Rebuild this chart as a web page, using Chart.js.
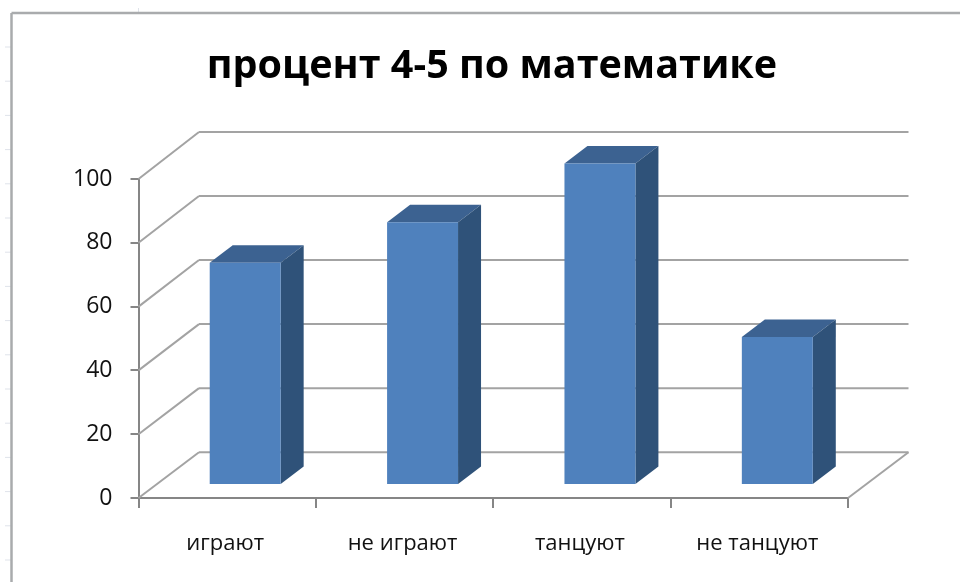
<!DOCTYPE html>
<html lang="ru">
<head>
<meta charset="utf-8">
<title>процент 4-5 по математике</title>
<script src="https://cdn.jsdelivr.net/npm/chart.js@4"></script>
<style>
  html, body { margin: 0; padding: 0; background: #fff; overflow: hidden; }
  canvas { display: block; filter: blur(0.5px); }
</style>
</head>
<body>
<canvas id="chartContainer" width="960" height="582"></canvas>
<script>
// Значення
const categories = ["играют", "не играют", "танцуют", "не танцуют"];
const percentValues = [69.7, 82.4, 100.8, 46.4];
const chartTitle = "процент 4-5 по математике";

const gridColor = "#a3a3a3";
const axisColor = "#868686";
const wallDepth = { x: 60.5, y: -45.8, stretch: 0.004 };
const barShift = { x: 18, y: -13 };
const barDepth = { x: 23, y: -17.5 };

function line(ctx, x1, y1, x2, y2) {
  ctx.beginPath();
  ctx.moveTo(x1, y1);
  ctx.lineTo(x2, y2);
  ctx.stroke();
}

function poly(ctx, pts, color) {
  ctx.fillStyle = color;
  ctx.beginPath();
  pts.forEach((p, i) => (i ? ctx.lineTo(p[0], p[1]) : ctx.moveTo(p[0], p[1])));
  ctx.closePath();
  ctx.fill();
}

// Псевдо-3D: задня стінка, підлога та бокові грані стовпців
const fake3d = {
  id: "fake3d",
  beforeDraw(chart) {
    const ctx = chart.ctx;
    ctx.save();
    // рамка аркуша і лінійка зліва
    ctx.strokeStyle = "#dfe3ea";
    ctx.lineWidth = 1;
    for (let y = 47; y < 582; y += 34.2) line(ctx, 5, y, 11, y);
    line(ctx, 138.5, 8, 138.5, 12);
    ctx.strokeStyle = "#a9abad";
    ctx.lineWidth = 2.5;
    line(ctx, 11.5, 582, 11.5, 13);
    line(ctx, 11.5, 13, 960, 13);
    ctx.restore();
  },
  beforeDatasetsDraw(chart) {
    const ctx = chart.ctx;
    const { x: xScale, y: yScale } = chart.scales;
    const left = xScale.left;
    const right = xScale.right;
    const y0 = yScale.getPixelForValue(0);
    ctx.save();
    ctx.strokeStyle = gridColor;
    ctx.lineWidth = 2;
    yScale.ticks.forEach((tick) => {
      const y = yScale.getPixelForValue(tick.value);
      const backY = y + wallDepth.y - (y0 - y) * wallDepth.stretch;
      line(ctx, left, y, left + wallDepth.x, backY);
      line(ctx, left + wallDepth.x, backY, right + wallDepth.x, backY);
    });
    line(ctx, right, y0, right + wallDepth.x, y0 + wallDepth.y);

    // верхня і бокова грані
    chart.getDatasetMeta(0).data.forEach((bar) => {
      const x1 = bar.x - bar.width / 2 + barShift.x;
      const x2 = bar.x + bar.width / 2 + barShift.x;
      const top = bar.y + barShift.y;
      const base = bar.base + barShift.y;
      poly(ctx, [[x1, top], [x1 + barDepth.x, top + barDepth.y], [x2 + barDepth.x, top + barDepth.y], [x2, top]], "#3c6291");
      poly(ctx, [[x2, top], [x2 + barDepth.x, top + barDepth.y], [x2 + barDepth.x, base + barDepth.y], [x2, base]], "#2f5279");
    });
    ctx.restore();
  },
  beforeDatasetDraw(chart) {
    chart.ctx.save();
    chart.ctx.translate(barShift.x, barShift.y);
  },
  afterDatasetDraw(chart) {
    chart.ctx.restore();
  },
};

const ctx = document.getElementById("chartContainer").getContext("2d");
new Chart(ctx, {
  type: "bar",
  data: {
    labels: categories,
    datasets: [
      {
        data: percentValues,
        backgroundColor: "#4f81bd",
        borderWidth: 0,
        categoryPercentage: 1,
        barPercentage: 0.4,
        clip: false,
      },
    ],
  },
  plugins: [fake3d],
  options: {
    responsive: false,
    animation: false,
    layout: { padding: { left: 24, right: 0, top: 0, bottom: 0 } },
    plugins: {
      legend: { display: false },
      tooltip: { enabled: false },
      title: {
        display: true,
        text: chartTitle,
        color: "#000",
        font: { family: "'Open Sans'", size: 39.5, weight: "bold", lineHeight: 1.2 },
        padding: { top: 43, bottom: 88.6 },
      },
    },
    scales: {
      x: {
        afterFit: (s) => { s.height = 84; },
        offset: true,
        border: { color: axisColor, width: 2 },
        grid: { drawOnChartArea: false, color: axisColor, lineWidth: 2, tickLength: 10 },
        ticks: {
          autoSkip: false,
          maxRotation: 0,
          padding: 23,
          labelOffset: -2,
          color: "#111",
          font: { family: "'Open Sans'", size: 22 },
        },
      },
      y: {
        min: 0,
        max: 100,
        afterFit: (s) => { s.width = 114.5; },
        border: { color: axisColor, width: 2 },
        grid: { drawOnChartArea: false, color: axisColor, lineWidth: 2, tickLength: 8 },
        ticks: {
          stepSize: 20,
          padding: 18,
          color: "#111",
          font: { family: "'Open Sans'", size: 23 },
        },
      },
      // порожня права вісь лишає місце під задню стінку
      yRight: {
        axis: "y",
        position: "right",
        afterFit: (s) => { s.width = 112; },
        border: { display: false },
        grid: { display: false },
        ticks: { display: false },
      },
    },
  },
});
</script>
</body>
</html>
